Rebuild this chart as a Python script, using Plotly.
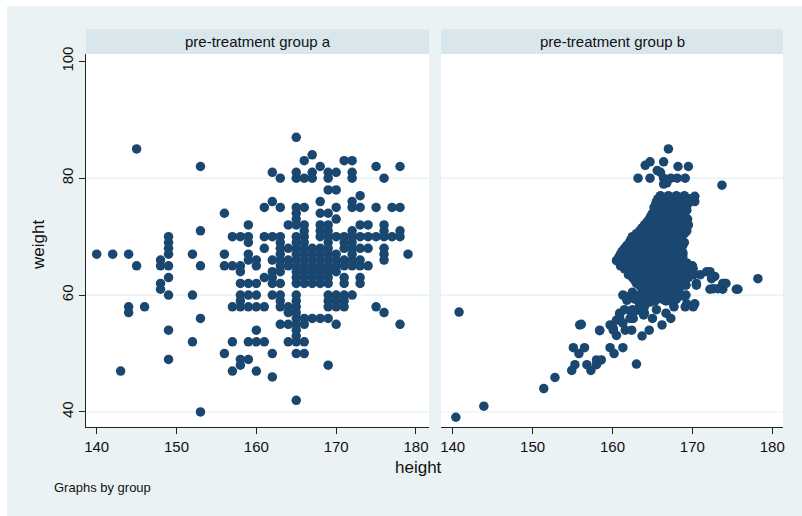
import plotly.graph_objects as go

# ---------------- data ----------------
height_a = [
    165,
    145,
    167,
    166, 171, 172,
    153, 168, 175, 178,
    162, 165, 167, 169, 170, 172,
    163, 165, 166, 167, 169, 172, 176,
    169, 170,
    173,
    162, 168, 172,
    161, 163, 165, 166, 170, 172, 173, 175, 177, 178,
    156, 165, 168, 169,
    165, 170,
    159, 164, 165, 166, 168, 169, 173, 174, 176,
    153, 166, 168, 169, 172, 176, 178,
    149, 157, 158, 159, 161, 162, 163, 165, 166, 168, 169, 170, 171, 172, 173, 174, 175, 176, 177, 178,
    149, 159, 163, 165, 166, 169, 171, 172,
    149, 161, 163, 164, 165, 166, 167, 168, 169, 171, 172, 173, 174, 176,
    140, 142, 144, 149, 152, 156, 159, 163, 165, 166, 167, 168, 169, 170, 172, 176, 179,
    148, 159, 160, 162, 163, 164, 165, 166, 167, 168, 169, 170, 171, 172, 173, 176,
    145, 148, 149, 153, 156, 157, 158, 160, 163, 164, 165, 166, 167, 168, 169, 170, 171, 172, 173, 174,
    158, 162, 163, 165, 166, 167, 168, 169, 170,
    149, 161, 162, 165, 166, 167, 168, 169, 171, 173,
    148, 158, 159, 160, 162, 163, 165, 166, 167, 168, 169, 171, 173,
    148,
    149, 152, 158, 159, 160, 162, 163, 165, 169, 170, 171, 172,
    158, 163, 165, 169, 170, 171,
    144, 146, 157, 158, 159, 160, 161, 163, 164, 165, 169, 170, 171, 175,
    144, 164, 165, 176,
    153, 165, 166, 167, 168, 169,
    163, 164, 165, 166, 170, 178,
    149, 160, 165,
    165,
    152, 157, 159, 160, 161, 164, 165, 166,
    156, 162, 165, 166,
    149, 158, 159,
    158, 169,
    143, 157, 160,
    162,
    165,
    153,
]
weight_a = (
    [87] * 1 + [85] * 1 + [84] * 1 + [83] * 3 + [82] * 4 + [81] * 6 + [80] * 7
    + [78] * 2 + [77] * 1 + [76] * 3 + [75] * 10 + [74] * 4 + [73] * 2 + [72] * 9
    + [71] * 7 + [70] * 20 + [69] * 8 + [68] * 14 + [67] * 17 + [66] * 16 + [65] * 20
    + [64] * 9 + [63] * 10 + [62] * 13 + [61] * 1 + [60] * 12 + [59] * 6 + [58] * 14
    + [57] * 4 + [56] * 6 + [55] * 6 + [54] * 3 + [53] * 1 + [52] * 8 + [50] * 4
    + [49] * 3 + [48] * 2 + [47] * 3 + [46] * 1 + [42] * 1 + [40] * 1
)

height_b = [
    140.4, 143.9, 140.8, 151.4, 152.8,
    154.9, 155.3, 156.8, 157.3, 158.0, 158.6, 158.0,
    155.1, 156.5, 155.8, 156.1, 158.4,
    159.7, 160.2, 161.3, 163.0, 163.7,
    159.7, 160.5, 160.9, 160.1, 161.6, 162.4, 160.5,
    162.4, 163.4, 164.0, 162.6, 163.4, 164.0,
    164.6, 165.0, 166.2, 167.3, 166.7,
    167.7, 169.1, 170.1,
    161.6, 163.4, 164.5, 165.3, 166.2, 167.2, 168.0, 168.9,
    172.2, 173.8, 175.5, 174.0, 178.2,
    161.8, 165.3, 166.7, 170.5,
    167.0, 164.1, 164.7, 166.4, 168.2, 169.5, 163.2, 164.7, 166.0, 166.4,
    167.3, 168.1, 169.1, 166.4, 166.8, 173.7, 165.6,
    170.1, 171.8, 172.4, 173.8, 172.6, 173.2, 169.2, 170.5, 172.2, 172.8,
    174.2, 175.7, 171.0, 169.5,
    165.1, 166.3, 167.6, 168.4, 169.2, 161.3, 161.8, 163.4, 164.3, 163.4,
    164.7, 165.5, 166.4, 167.6, 169.3, 170.3, 160.9, 162.6, 163.9, 162.2,
    155.9, 158.4, 160.1, 161.3, 160.9, 163.6, 166.0, 164.7, 163.8, 161.5,
    160.5, 161.3, 168.8, 168.8,
    166.0, 167.0, 168.0, 169.0, 170.3,
    165.5, 166.5, 167.5, 168.5, 169.5, 170.3,
    165.2, 166.2, 167.2, 168.2, 169.2,
    165.0, 166.0, 167.0, 168.0, 169.0,
    164.6, 165.6, 166.6, 167.6, 168.6, 169.4,
    164.0, 165.0, 166.0, 167.0, 168.0, 169.0, 169.5,
    163.4, 164.4, 165.4, 166.4, 167.4, 168.4, 169.3,
    162.5, 163.5, 164.5, 165.5, 166.5, 167.5, 168.5,
    162.1, 163.1, 164.1, 165.1, 166.1, 167.1, 168.1, 169.0,
    161.5, 162.5, 163.5, 164.5, 165.5, 166.5, 167.5, 168.5,
    161.0, 162.0, 163.0, 164.0, 165.0, 166.0, 167.0, 168.0,
    160.6, 161.6, 162.6, 163.6, 164.6, 165.6, 166.6, 167.6, 168.6,
    161.0, 162.0, 163.0, 164.0, 165.0, 166.0, 167.0, 168.0, 169.0, 170.0,
    162.0, 163.0, 164.0, 165.0, 166.0, 167.0, 168.0, 169.0,
    162.5, 164.5, 165.5, 166.5, 167.5, 168.5,
    163.0, 165.0, 167.0, 169.0,
    165.7, 166.7, 167.7, 168.7, 169.7,
    165.4, 166.4, 167.4, 168.4, 169.4,
    165.3, 166.3, 167.3, 168.3, 169.3,
    164.8, 165.8, 166.8, 167.8, 168.8,
    164.3, 165.3, 166.3, 167.3, 168.3, 169.3,
    163.7, 164.7, 165.7, 166.7, 167.7, 168.7,
    163.0, 164.0, 165.0, 166.0, 167.0, 168.0, 169.0,
    162.3, 163.3, 164.3, 165.3, 166.3, 167.3, 168.3,
    161.8, 162.8, 163.8, 164.8, 165.8, 166.8, 167.8, 168.8,
    161.2, 162.2, 163.2, 164.2, 165.2, 166.2, 167.2, 168.2,
    160.8, 161.8, 162.8, 163.8, 164.8, 165.8, 166.8, 167.8, 168.8,
    161.3, 162.3, 163.3, 164.3, 165.3, 166.3, 167.3, 168.3, 169.3,
    161.5, 162.5, 163.5, 164.5, 165.5, 166.5, 167.5, 168.5, 169.5,
    162.0, 163.0, 164.0, 165.0, 166.0, 167.0, 168.0, 169.0, 170.2,
    162.8, 163.8, 164.8, 165.8, 166.8, 167.8, 168.8,
    163.5, 164.5, 165.5, 166.5, 167.5,
    162.5, 163.8, 165.2, 167.0, 168.2,
    162.8, 164.0, 167.5, 168.0,
    161.5, 162.5, 165.5,
]
weight_b = [
    39.1, 41.0, 57.1, 44.0, 45.9,
    47.1, 48.1, 48.1, 47.1, 48.1, 48.9, 48.9,
    51.0, 51.0, 50.0, 55.0, 53.9,
    51.0, 50.0, 51.0, 48.2, 53.0,
    54.9, 55.7, 56.9, 54.0, 54.0, 54.0, 53.1,
    56.9, 57.4, 56.9, 56.0, 58.0, 58.0,
    54.0, 56.0, 54.9, 56.0, 56.9,
    58.0, 58.0, 58.0,
    59.8, 59.8, 59.8, 59.8, 60.2, 60.2, 61.4, 59.8,
    61.0, 61.0, 61.0, 62.0, 62.8,
    59.1, 59.0, 59.0, 62.0,
    85.0, 82.2, 82.8, 82.8, 82.0, 82.0, 80.0, 80.0, 81.0, 80.0,
    80.0, 80.0, 80.0, 79.0, 79.2, 78.8, 81.3,
    64.5, 64.0, 62.8, 62.0, 61.1, 61.1, 61.7, 61.7, 64.0, 63.2,
    62.0, 61.0, 63.5, 63.0,
    61.0, 61.2, 61.0, 61.2, 60.0, 60.0, 59.5, 60.0, 60.0, 58.5,
    58.8, 59.2, 59.2, 58.5, 58.5, 58.5, 56.7, 57.0, 56.6, 56.0,
    54.9, 54.0, 54.3, 55.2, 56.0, 63.0, 62.0, 61.8, 63.2, 64.9,
    65.9, 66.9, 67.3, 67.0,
    77.0, 77.0, 77.0, 77.0, 76.9,
    76.0, 76.0, 76.0, 76.0, 76.0, 76.0,
    75.0, 75.0, 75.0, 75.0, 75.0,
    74.0, 74.0, 74.0, 74.0, 74.0,
    73.0, 73.0, 73.0, 73.0, 73.0, 73.0,
    72.0, 72.0, 72.0, 72.0, 72.0, 72.0, 72.0,
    71.0, 71.0, 71.0, 71.0, 71.0, 71.0, 71.0,
    70.0, 70.0, 70.0, 70.0, 70.0, 70.0, 70.0,
    69.0, 69.0, 69.0, 69.0, 69.0, 69.0, 69.0, 69.0,
    68.0, 68.0, 68.0, 68.0, 68.0, 68.0, 68.0, 68.0,
    67.0, 67.0, 67.0, 67.0, 67.0, 67.0, 67.0, 67.0,
    66.0, 66.0, 66.0, 66.0, 66.0, 66.0, 66.0, 66.0, 66.0,
    65.0, 65.0, 65.0, 65.0, 65.0, 65.0, 65.0, 65.0, 65.0, 65.0,
    64.0, 64.0, 64.0, 64.0, 64.0, 64.0, 64.0, 64.0,
    63.0, 63.0, 63.0, 63.0, 63.0, 63.0,
    62.0, 62.0, 62.0, 62.0,
    76.5, 76.5, 76.5, 76.5, 76.5,
    75.5, 75.5, 75.5, 75.5, 75.5,
    74.5, 74.5, 74.5, 74.5, 74.5,
    73.5, 73.5, 73.5, 73.5, 73.5,
    72.5, 72.5, 72.5, 72.5, 72.5, 72.5,
    71.5, 71.5, 71.5, 71.5, 71.5, 71.5,
    70.5, 70.5, 70.5, 70.5, 70.5, 70.5, 70.5,
    69.5, 69.5, 69.5, 69.5, 69.5, 69.5, 69.5,
    68.5, 68.5, 68.5, 68.5, 68.5, 68.5, 68.5, 68.5,
    67.5, 67.5, 67.5, 67.5, 67.5, 67.5, 67.5, 67.5,
    66.5, 66.5, 66.5, 66.5, 66.5, 66.5, 66.5, 66.5, 66.5,
    65.5, 65.5, 65.5, 65.5, 65.5, 65.5, 65.5, 65.5, 65.5,
    64.5, 64.5, 64.5, 64.5, 64.5, 64.5, 64.5, 64.5, 64.5,
    63.5, 63.5, 63.5, 63.5, 63.5, 63.5, 63.5, 63.5, 63.5,
    62.5, 62.5, 62.5, 62.5, 62.5, 62.5, 62.5,
    61.5, 61.5, 61.5, 61.5, 61.5,
    60.5, 60.5, 60.5, 60.5, 60.5,
    59.3, 59.3, 59.3, 59.3,
    57.5, 57.5, 57.5,
]

panel_titles = ["pre-treatment group a", "pre-treatment group b"]
x_ticks = [140, 150, 160, 170, 180]
y_ticks = [40, 60, 80, 100]
y_grid = [40, 60, 80]
x_title = "height"
y_title = "weight"
note = "Graphs by group"

# ---------------- style ----------------
W, H = 802, 516
L, R, T, B = 86, 19, 54, 89
PW, PH = W - L - R, H - T - B
NAVY = "#1A476F"
BG = "#EAF2F3"
STRIP = "#D9E6EB"
FONT = "Liberation Sans, Arial, sans-serif"


def px_x(p):
    return (p - L) / PW


def px_y(p):
    return (H - B - p) / PH


fig = go.Figure()
fig.add_trace(go.Scatter(x=height_a, y=weight_a, mode="markers", xaxis="x", yaxis="y",
                         marker=dict(color=NAVY, size=9.5, line=dict(width=0)),
                         showlegend=False, hoverinfo="skip"))
fig.add_trace(go.Scatter(x=height_b, y=weight_b, mode="markers", xaxis="x2", yaxis="y2",
                         marker=dict(color=NAVY, size=9.5, line=dict(width=0)),
                         showlegend=False, hoverinfo="skip"))

xcommon = dict(tickvals=x_ticks, ticks="outside", ticklen=6, tickwidth=1, tickcolor="#222",
               showline=True, linecolor="#222", linewidth=1.3, showgrid=False, zeroline=False,
               tickfont=dict(family=FONT, size=15, color="#111"), fixedrange=True)
ycommon = dict(range=[37.43, 101.25], showgrid=False, zeroline=False, fixedrange=True)

fig.update_layout(
    width=W, height=H,
    margin=dict(l=L, r=R, t=T, b=B, pad=0),
    paper_bgcolor=BG, plot_bgcolor="white",
    xaxis=dict(domain=[0, 343 / PW], range=[138.66, 181.63], anchor="y", **xcommon),
    xaxis2=dict(domain=[355 / PW, 1], range=[138.54, 181.34], anchor="y2", **xcommon),
    yaxis=dict(domain=[0, 1], anchor="x", tickvals=y_ticks, tickangle=-90, ticks="outside",
               ticklen=6, tickcolor="#222", showline=True, linecolor="#222", linewidth=1.3,
               tickfont=dict(family=FONT, size=15, color="#111"), **ycommon),
    yaxis2=dict(domain=[0, 1], anchor="x2", showticklabels=False, ticks="", showline=False,
                **ycommon),
)

shapes = []
# white edge strips (top & left)
shapes.append(dict(type="rect", xref="paper", yref="paper", x0=px_x(0), x1=px_x(W),
                   y0=px_y(6), y1=px_y(0), fillcolor="white", line=dict(width=0), layer="below"))
shapes.append(dict(type="rect", xref="paper", yref="paper", x0=px_x(0), x1=px_x(7),
                   y0=px_y(H), y1=px_y(0), fillcolor="white", line=dict(width=0), layer="below"))

annotations = []
for i, (xa, ya) in enumerate([("x", "y"), ("x2", "y2")]):
    for g in y_grid:
        shapes.append(dict(type="line", xref=f"{xa} domain", yref=ya, x0=0, x1=1, y0=g, y1=g,
                           line=dict(color="#E6EFF1", width=1.2), layer="below"))
    shapes.append(dict(type="rect", xref=f"{xa} domain", yref=f"{ya} domain", x0=0, x1=1,
                       y0=1, y1=1 + 24.7 / PH, fillcolor=STRIP, line=dict(width=0)))
    annotations.append(dict(text=panel_titles[i], xref=f"{xa} domain", yref=f"{ya} domain",
                            x=0.5, y=1 + 12.6 / PH, showarrow=False, xanchor="center",
                            yanchor="middle", font=dict(family=FONT, size=15, color="#111")))

annotations.append(dict(text=x_title, xref="paper", yref="paper", x=px_x(418), y=px_y(467),
                        showarrow=False, xanchor="center", yanchor="middle",
                        font=dict(family=FONT, size=17, color="#111")))
annotations.append(dict(text=y_title, xref="paper", yref="paper", x=px_x(38), y=px_y(245),
                        showarrow=False, xanchor="center", yanchor="middle", textangle=-90,
                        font=dict(family=FONT, size=17, color="#111")))
annotations.append(dict(text=note, xref="paper", yref="paper", x=px_x(52), y=px_y(488),
                        showarrow=False, xanchor="left", yanchor="middle",
                        font=dict(family=FONT, size=13, color="#111")))

fig.update_layout(shapes=shapes, annotations=annotations)
fig.write_html("out.html")
